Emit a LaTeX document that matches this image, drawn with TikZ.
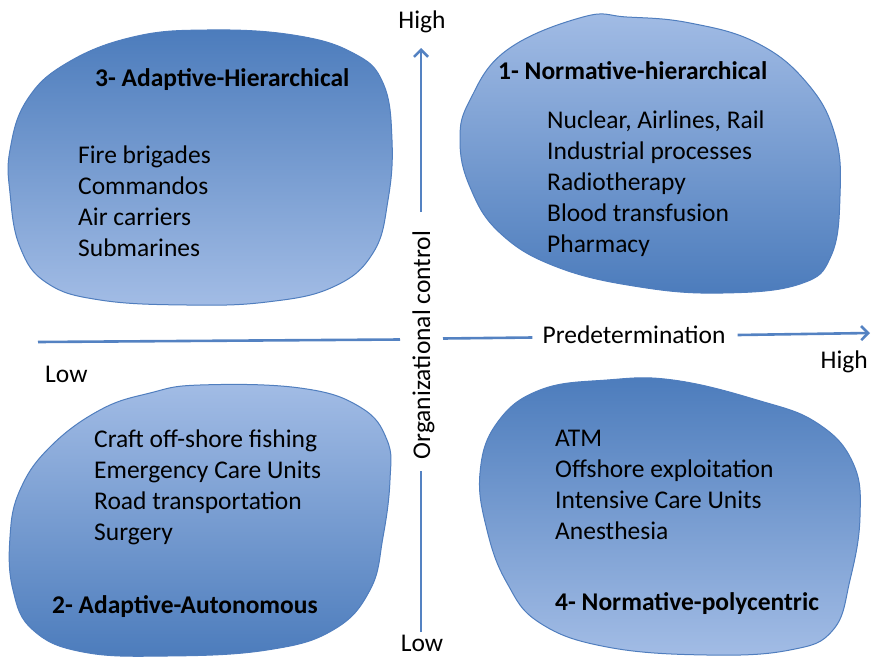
\documentclass[tikz,border=0pt]{standalone}
\usepackage{fontspec}
\setmainfont{Carlito}
\usetikzlibrary{arrows.meta}

\definecolor{blobdark}{RGB}{76,124,188}
\definecolor{bloblight}{RGB}{162,188,229}
\definecolor{blobedge}{RGB}{80,126,190}
\definecolor{axisblue}{RGB}{84,130,194}

\begin{document}
\begin{tikzpicture}[x=1pt,y=-1pt]
        \tikzstyle{every node}+=[inner sep=0pt, font=\fontsize{25.5}{31}\selectfont]
        \tikzstyle{blob}=[draw=blobedge, line width=1pt]
        \tikzstyle{darktop}=[top color=blobdark, bottom color=bloblight]
        \tikzstyle{lighttop}=[top color=bloblight, bottom color=blobdark]
        \tikzstyle{axis}=[draw=axisblue, line width=2.6pt]
        \tikzstyle{title}=[anchor=base west, font=\fontsize{25.5}{31}\selectfont\bfseries]
        \tikzstyle{items}=[anchor=north west, align=left]
        \useasboundingbox (0,0) rectangle (871,659);

        % blobs
        \draw [blob, darktop] plot [smooth cycle, tension=0.7] coordinates {
          (10,193) (20,247) (47,283) (100,300) (187,305) (267,302) (333,287) (373,253)
          (388,200) (392,140) (383,83) (353,53) (293,35) (207,30) (133,37) (67,63) (27,100) (10,150)};
        \draw [blob, lighttop] plot [smooth cycle, tension=0.7] coordinates {
          (583,17) (507,50) (470,100) (460,140) (470,187) (500,233) (557,267) (640,287)
          (723,293) (800,284) (831,256) (840,196) (835,135) (807,83) (757,43) (690,23) (627,17)};
        \draw [blob, lighttop] plot [smooth cycle, tension=0.7] coordinates {
          (200,385) (300,388) (360,407) (387,440) (390,480) (383,537) (370,590) (333,630)
          (267,650) (167,656) (83,652) (33,630) (13,590) (10,537) (20,490) (50,447) (100,410) (150,393)};
        \draw [blob, darktop] plot [smooth cycle, tension=0.7] coordinates {
          (607,380) (673,380) (757,400) (817,423) (853,463) (860,517) (850,580) (833,630)
          (790,650) (707,655) (607,647) (540,623) (507,583) (487,530) (480,473) (497,423) (540,390)};

        % quadrant texts
        \node [title] (adhTitle) at (95,86) {3- Adaptive-Hierarchical};
        \node [items] (adhList) at (78,146) {Fire brigades\\Commandos\\Air carriers\\Submarines};

        \node [title] (nohTitle) at (498,79) {1- Normative-hierarchical};
        \node [items] (nohList) at (547,111) {Nuclear, Airlines, Rail\\Industrial processes\\Radiotherapy\\Blood transfusion\\Pharmacy};

        \node [items] (adaList) at (94,430) {Craft off-shore fishing\\Emergency Care Units\\Road transportation\\Surgery};
        \node [title] (adaTitle) at (52,613) {2- Adaptive-Autonomous};

        \node [items] (nopList) at (555,430) {ATM\\Offshore exploitation\\Intensive Care Units\\Anesthesia};
        \node [title] (nopTitle) at (555,610) {4- Normative-polycentric};

        % axes
        \node [anchor=base] (yHigh) at (422,28) {High};
        \node [anchor=base] (yLow) at (422,651) {Low};
        \node [anchor=base, rotate=90] (yLabel) at (430,345) {Organizational control};
        \node [anchor=base west] (xLow) at (45,382) {Low};
        \node [anchor=base east] (xHigh) at (868,368) {High};
        \node [anchor=base] (xLabel) at (634,343) {Predetermination};

        \coordinate (yBot) at (421,632);
        \coordinate (yMidLow) at (421,471);
        \coordinate (yMidHigh) at (421,212);
        \coordinate (yTip) at (421,48);
        \draw [axis] (yBot) -- (yMidLow);
        \draw [axis, arrows={-Straight Barb[length=7pt,width=14pt]}] (yMidHigh) -- (yTip);

        \coordinate (xStart) at (38,342);
        \coordinate (xGapL) at (400,339.5);
        \coordinate (xGapR) at (443,338.5);
        \coordinate (xTip) at (870,333);
        \draw [axis] (xStart) -- (xGapL);
        \draw [axis] (xGapR) -- ([xshift=-10pt]xLabel.west |- 0,337.5);
        \draw [axis, arrows={-Straight Barb[length=7pt,width=14pt]}] ([xshift=12pt]xLabel.east |- 0,335) -- (xTip);
      \end{tikzpicture}
\end{document}
